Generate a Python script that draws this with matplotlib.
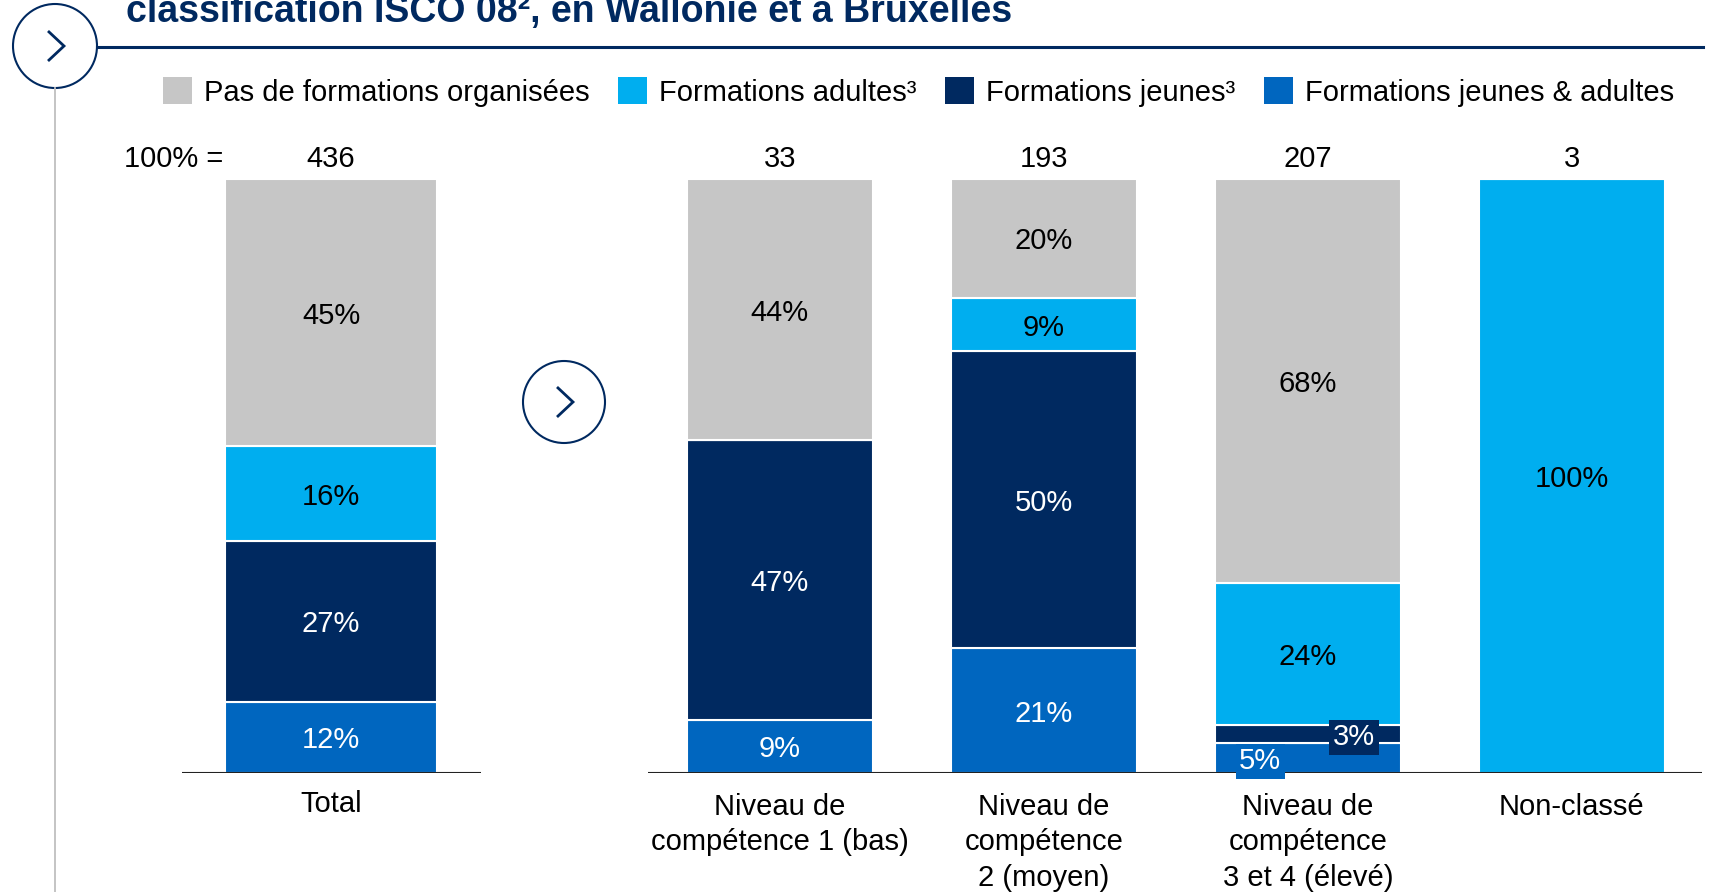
import numpy as np
import matplotlib.pyplot as plt
from matplotlib.patches import Circle, Patch

plt.rcParams['font.family'] = ['Liberation Sans', 'DejaVu Sans']

# data
categories = ["Total", "Niveau de\ncompétence 1 (bas)", "Niveau de\ncompétence\n2 (moyen)",
              "Niveau de\ncompétence\n3 et 4 (élevé)", "Non-classé"]
totals = [436, 33, 193, 207, 3]
jeunes_adultes = [12, 9, 21, 5, 0]
jeunes = [27, 47, 50, 3, 0]
adultes = [16, 0, 9, 24, 100]
pas_de = [45, 44, 20, 68, 0]
series_names = ["Formations jeunes & adultes", "Formations jeunes³",
                "Formations adultes³", "Pas de formations organisées"]

GREY = "#C6C6C6"
LIGHT = "#00AEEF"
NAVY = "#002960"
BLUE = "#0066BF"
colors = [BLUE, NAVY, LIGHT, GREY]
text_colors = ["white", "white", "black", "black"]

x_pos = np.array([0, 1.7, 2.7, 3.7, 4.7])
widths = [0.8, 0.705, 0.705, 0.705, 0.705]

fig = plt.figure(figsize=(17.14, 8.92), dpi=100)

# decoration layer in pixel units
deco = fig.add_axes([0, 0, 1, 1])
deco.set_xlim(0, 1714)
deco.set_ylim(892, 0)
deco.axis('off')

def chevron(cx, cy):
    deco.plot([cx - 7, cx + 9, cx - 7], [cy - 15, cy, cy + 15], color=NAVY, lw=2,
              solid_capstyle='butt', solid_joinstyle='miter')

deco.plot([55, 55], [88, 892], color="#BFBFBF", lw=1.3)
deco.plot([97, 1703], [47, 47], color=NAVY, lw=2.2)
deco.add_patch(Circle((55, 46), 42, fill=False, ec=NAVY, lw=1.5))
chevron(55, 46)
deco.add_patch(Circle((564, 402), 41, fill=False, ec=NAVY, lw=1.5))
chevron(564, 402)

# title is cut at the top edge, as in the original slide
fig.text(126 / 1714, 1 - 22 / 892, "classification ISCO 08², en Wallonie et à Bruxelles",
         fontsize=27, fontweight='bold', color=NAVY, va='baseline', ha='left')

# main chart
ax = fig.add_axes([0, 119 / 892, 1, 594 / 892])
ax.patch.set_visible(False)
ax.set_xlim(-331 / 264, (1714 - 331) / 264)
ax.set_ylim(0, 100)
ax.axis('off')

stack = [jeunes_adultes, jeunes, adultes, pas_de]
bottom = np.zeros(len(categories))
offsets = {(3, 0): -0.18, (3, 1): 0.175}
for k, vals in enumerate(stack):
    vals = np.array(vals, dtype=float)
    ax.bar(x_pos, vals, width=widths, bottom=bottom, color=colors[k],
           edgecolor='white', linewidth=1.5, zorder=2)
    for i, v in enumerate(vals):
        if v <= 0:
            continue
        yc = bottom[i] + v / 2 - 0.5
        if (i, k) in offsets:
            ax.text(x_pos[i] + offsets[(i, k)], yc, f"{v:.0f}%", ha='center', va='center',
                    fontsize=21, color='white', zorder=4,
                    bbox=dict(boxstyle='square,pad=0.12', fc=colors[k], ec='none'))
        else:
            ax.text(x_pos[i], yc, f"{v:.0f}%", ha='center', va='center',
                    fontsize=21, color=text_colors[k], zorder=3)
    bottom += vals

# baselines
ax.hlines(0, (182 - 331) / 264, (481 - 331) / 264, color='#222222', lw=1.5, zorder=3)
ax.hlines(0, (648 - 331) / 264, (1702 - 331) / 264, color='#222222', lw=1.5, zorder=3)

# totals
for i, t in enumerate(totals):
    ax.text(x_pos[i], 103.3, str(t), ha='center', va='center', fontsize=21, clip_on=False)
ax.text(-0.41, 103.3, "100% =", ha='right', va='center', fontsize=21, clip_on=False)

# category labels
for i, c in enumerate(categories):
    y = -2.85 if i == 0 else -3.4
    ax.text(x_pos[i], y, c, ha='center', va='top', fontsize=21, linespacing=1.33,
            clip_on=False)

# legend
handles = [Patch(fc=colors[k], ec='none') for k in [3, 2, 1, 0]]
labels = [series_names[k] for k in [3, 2, 1, 0]]
fig.legend(handles, labels, loc='center left', bbox_to_anchor=(163 / 1714, 1 - 92 / 892),
           ncol=4, frameon=False, fontsize=21, handlelength=1.0, handleheight=1.0,
           handletextpad=0.41, columnspacing=0.97, borderpad=0, borderaxespad=0)

fig.savefig("out.png", dpi=100)
